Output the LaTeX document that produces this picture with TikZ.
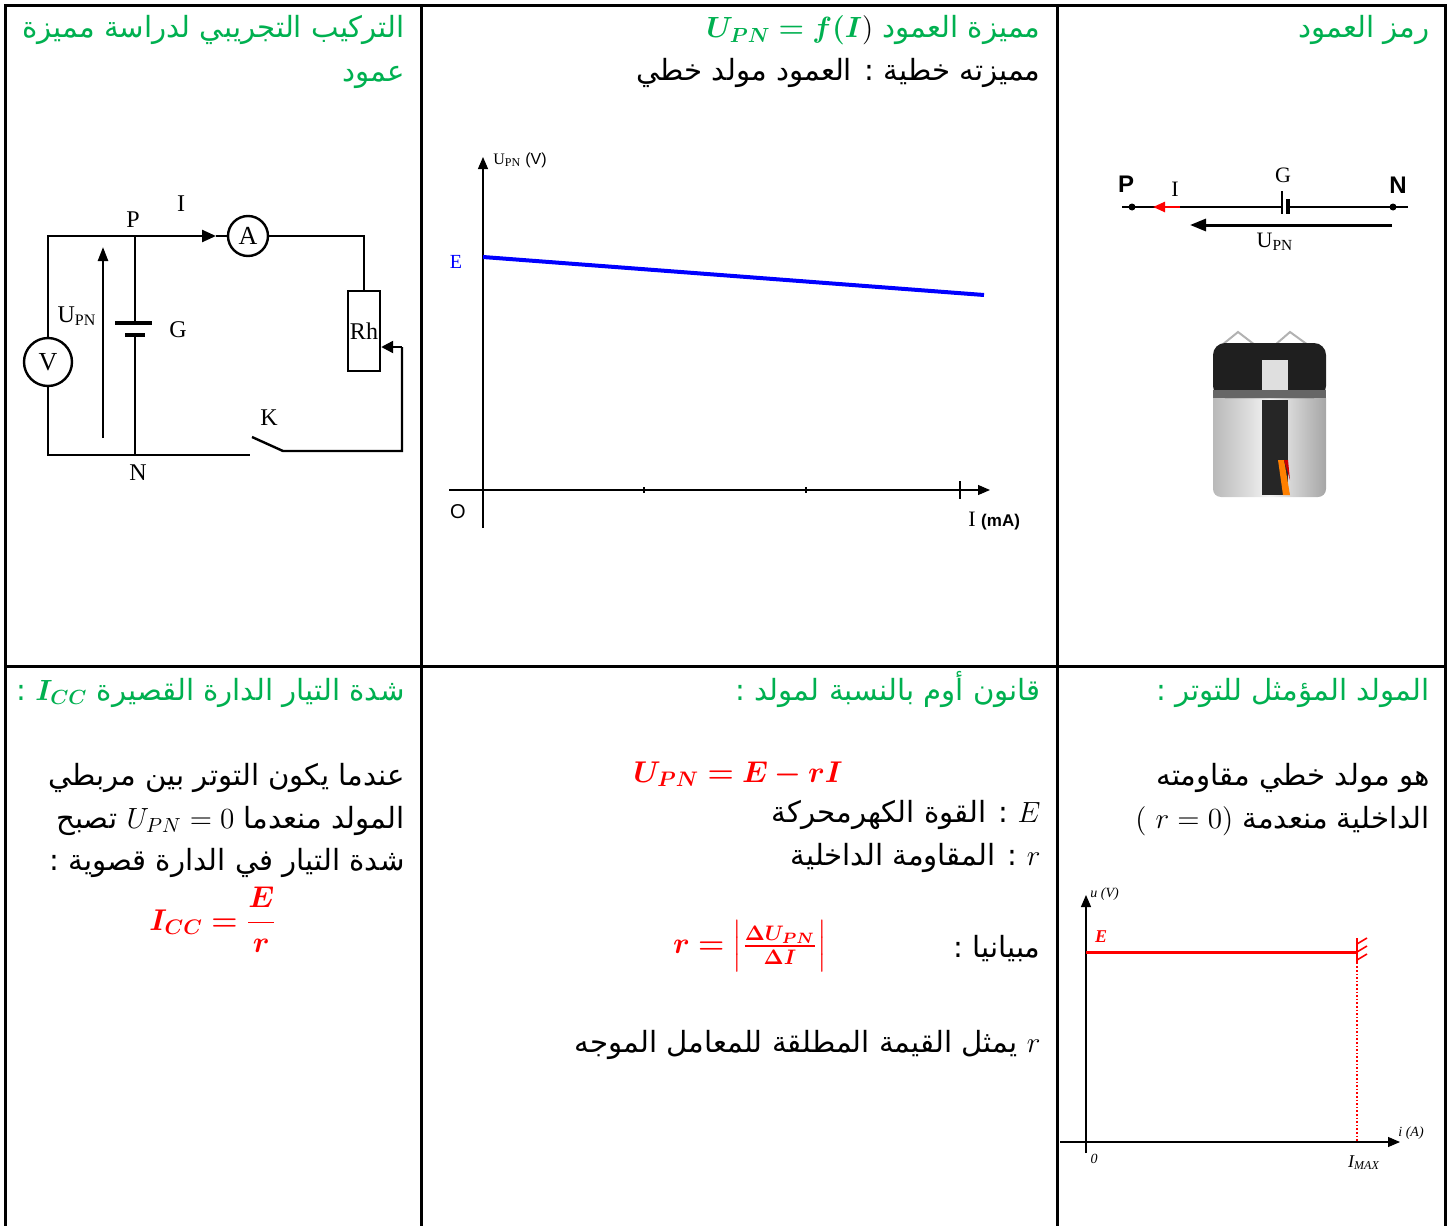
\RequirePackage{fix-cm}
\documentclass[tikz,border=0pt]{standalone}
\usepackage{amsmath}
\usepackage{fontspec}
\usepackage{bm}
\newfontfamily\arabicfont[Script=Arabic]{DejaVu Sans}
\newfontfamily\timesf{Liberation Serif}
\newfontfamily\arialf{Liberation Sans}
\TeXXeTstate=1
\usetikzlibrary{arrows.meta,positioning}
\definecolor{ttlgreen}{RGB}{0,176,80}
\definecolor{plotblue}{RGB}{0,0,255}
\tikzset{
  cellframe/.style={line width=1.5pt},
  ttl/.style={anchor=base east, inner sep=0pt, text=ttlgreen, font=\arabicfont\fontsize{14.6}{18}\selectfont},
  txt/.style={anchor=base east, inner sep=0pt, font=\arabicfont\fontsize{14.6}{18}\selectfont},
  eqn/.style={inner sep=0pt, text=red, font=\fontsize{15}{18}\selectfont},
  wire/.style={line width=1.2pt},
  meter/.style={circle, draw, line width=1.2pt, inner sep=0pt, font=\timesf\fontsize{13}{13}\selectfont},
  lbl/.style={inner sep=0pt, font=\timesf\fontsize{12}{12}\selectfont},
  axisline/.style={line width=0.6pt, -{Triangle[length=6pt,width=5pt]}},
}
\begin{document}
\begin{tikzpicture}[x=0.5pt,y=-0.5pt]
  \useasboundingbox (0,0) rectangle (1447,1226);
  % table
  \draw[cellframe] (5,1240) -- (5,5) -- (1445,5) -- (1445,1240);
  \draw[cellframe] (421,5) -- (421,1240);
  \draw[cellframe] (1057,5) -- (1057,1240);
  \draw[cellframe] (5,666) -- (1445,666);

  % cell 1 : the circuit
  \node[ttl] (ttlSetup) at (405,38) {\beginR التركيب التجريبي لدراسة مميزة\endR};
  \node[ttl] (ttlSetupB) at (405,81) {\beginR عمود\endR};
  \coordinate (cTL) at (48,236); \coordinate (cP) at (135,236); \coordinate (cBL) at (48,455);
  \coordinate (cN) at (135,455); \coordinate (cTR) at (364,236); \coordinate (cSl) at (402,347);
  \coordinate (cBR) at (402,451); \coordinate (cK) at (283,451); \coordinate (cKa) at (250,455);
  \coordinate (cKb) at (252,437); \coordinate (cI) at (216,236);
  \node[meter, minimum size=24pt] (vm) at (48,362) {V};
  \node[meter, minimum size=20pt] (am) at (248,236) {A};
  \node[draw, wire, minimum width=16pt, minimum height=40pt, inner sep=0pt,
    font=\timesf\fontsize{12}{12}\selectfont] (rh) at (364,331) {Rh};
  \draw[wire] (vm.north) -- (cTL) -- (cP);
  \draw[wire, -{Triangle[length=7pt,width=6pt]}] (cP) -- (cI);
  \draw[wire] (cI) -- (am.west);
  \draw[wire] (am.east) -- (cTR) -- (rh.north);
  \draw[wire, -{Triangle[length=6pt,width=6pt]}] (cSl) -- (rh.east |- cSl);
  \draw[wire] (cSl) -- (cBR) -- (cK) -- (cKb);
  \draw[wire] (vm.south) -- (cBL) -- (cKa);
  \draw[wire] (cP) -- (135,323); \draw[wire] (135,335) -- (cN);
  \draw[line width=1.8pt] (115,323) -- (152,323);
  \draw[line width=1.8pt] (125,335) -- (145,335);
  \draw[wire, -{Triangle[length=7pt,width=5pt]}] (103,438) -- (103,247);
  \node[lbl] (lP) at (133,220) {P};
  \node[lbl] (lI) at (181,204) {I};
  \node[lbl] (lG) at (178,330) {G};
  \node[lbl] (lN) at (138,473) {N};
  \node[lbl] (lK) at (269,418) {K};
  \node[lbl] (lU) at (77,316) {U\textsubscript{PN}};

  % cell 2 : the characteristic
  \node[ttl] (ttlChar) at (1041,38) {\beginR مميزة العمود \beginL$\bm{U_{PN}=f(I}{\color{black})}$\endL\endR};
  \node[txt] (lineChar) at (1041,80) {\beginR مميزته خطية : العمود مولد خطي\endR};
  \coordinate (gO) at (483,490);
  \draw[axisline] (483,528) -- (483,157);
  \draw[axisline] (449,490) -- (990,490);
  \foreach \tx in {644,806} \draw[line width=0.6pt] (\tx,487) -- (\tx,493);
  \draw[line width=0.6pt] (960,481) -- (960,499);
  \draw[line width=2pt, plotblue] (483,257) -- (984,295);
  \node[lbl, anchor=west, font=\timesf\fontsize{8}{8}\selectfont] (lUV) at (493,160) {U\textsubscript{PN} {\arialf(V)}};
  \node[lbl, text=plotblue, font=\timesf\fontsize{10}{10}\selectfont] (lE) at (456,262) {E};
  \node[lbl, font=\arialf\fontsize{10}{10}\selectfont] (lO) at (458,512) {O};
  \node[lbl, anchor=west, font=\timesf\fontsize{11}{11}\selectfont] (lImA) at (968,521) {I {\arialf\bfseries\fontsize{8.5}{9}\selectfont(mA)}};

  % cell 3 : the symbol
  \node[ttl] (ttlSym) at (1430,38) {\beginR رمز العمود\endR};
  \coordinate (sP) at (1132,207); \coordinate (sN) at (1393,207);
  \coordinate (sA) at (1122,207); \coordinate (sB) at (1408,207);
  \draw[line width=0.8pt] (sA) -- (1282,207);
  \draw[line width=0.8pt] (1288,207) -- (sB);
  \draw[line width=1.1pt] (1282,191) -- (1282,214);
  \draw[line width=1.6pt] (1288,199) -- (1288,214);
  \fill (sP) circle (3.5); \fill (sN) circle (3.5);
  \draw[red, line width=1.2pt, -{Triangle[length=6pt,width=5pt]}] (1180,207) -- (1153,207);
  \draw[line width=1.5pt, -{Triangle[length=8pt,width=6pt]}] (1392,225) -- (1190,225);
  \node[lbl, font=\arialf\bfseries\fontsize{12}{12}\selectfont] (sPl) at (1126,184) {P};
  \node[lbl, font=\arialf\bfseries\fontsize{12}{12}\selectfont] (sNl) at (1398,185) {N};
  \node[lbl, font=\timesf\fontsize{11}{11}\selectfont] (sIl) at (1175,189) {I};
  \node[lbl, font=\timesf\fontsize{11}{11}\selectfont] (sGl) at (1283,175) {G};
  \node[lbl, font=\timesf\fontsize{11}{11}\selectfont] (sUl) at (1275,242) {U\textsubscript{PN}};
  % the battery
  \draw[gray!60, line width=1pt] (1222,345) -- (1238,332) -- (1255,345);
  \draw[gray!60, line width=1pt] (1275,345) -- (1290,332) -- (1308,345);
  \shade[left color=gray!55, right color=gray!70, middle color=gray!10, rounded corners=4pt]
    (1213,390) rectangle (1326,497);
  \fill[black!88, rounded corners=6pt] (1213,343) rectangle (1326,398);
  \fill[black!60] (1213,390) rectangle (1326,398);
  \fill[gray!25] (1262,360) rectangle (1288,390);
  \fill[black!85] (1262,400) rectangle (1288,495);
  \fill[orange] (1278,460) -- (1284,460) -- (1290,495) -- (1283,495) -- cycle;
  \fill[red!80!black] (1284,460) -- (1288,460) -- (1290,480) -- cycle;

  % cell 4 : short circuit current
  \node[ttl] (ttlIcc) at (405,700) {\beginR شدة التيار الدارة القصيرة \beginL$\bm{I_{CC}}$\endL{} :\endR};
  \node[txt] (lineIccA) at (405,785) {\beginR عندما يكون التوتر بين مربطي\endR};
  \node[txt] (lineIccB) at (405,828) {\beginR المولد منعدما \beginL$U_{PN}=0$\endL{} تصبح\endR};
  \node[txt] (lineIccC) at (405,870) {\beginR شدة التيار في الدارة قصوية :\endR};
  \node[eqn] (eqIcc) at (213,920) {$\bm{I_{CC}=\dfrac{E}{r}}$};

  % cell 5 : ohm's law
  \node[ttl] (ttlOhm) at (1041,700) {\beginR قانون أوم بالنسبة لمولد :\endR};
  \node[eqn, anchor=base] (eqOhm) at (738,782) {$\bm{U_{PN}=E-rI}$};
  \node[txt] (lineOhmE) at (1041,822) {\beginR\beginL$E$\endL{} : القوة الكهرمحركة\endR};
  \node[txt] (lineOhmR) at (1041,865) {\beginR\beginL$r$\endL{} : المقاومة الداخلية\endR};
  \node[txt] (lineGraph) at (1041,957) {\beginR مبيانيا :\endR};
  \node[eqn] (eqR) at (750,946) {$\bm{r=\left|\frac{\Delta U_{PN}}{\Delta I}\right|}$};
  \node[txt] (lineSlope) at (1041,1052) {\beginR\beginL$r$\endL{} يمثل القيمة المطلقة للمعامل الموجه\endR};

  % cell 6 : ideal generator
  \node[ttl] (ttlIdeal) at (1430,700) {\beginR المولد المؤمثل للتوتر :\endR};
  \node[txt] (lineIdealA) at (1430,785) {\beginR هو مولد خطي مقاومته\endR};
  \node[txt] (lineIdealB) at (1430,828) {\beginR الداخلية منعدمة \beginL$(\ r=0)$\endL\endR};
  \draw[axisline] (1086,1153) -- (1086,895);
  \draw[axisline] (1060,1142) -- (1400,1142);
  \draw[red, line width=1.5pt] (1086,952) -- (1357,952);
  \draw[red, line width=0.8pt, densely dotted] (1357,952) -- (1357,1142);
  \draw[red, line width=0.8pt] (1357,938) -- (1357,964);
  \foreach \hy in {944,952,960} \draw[red, line width=0.8pt] (1357,\hy) -- (1367,\hy-6);
  \node[lbl, anchor=west, font=\timesf\itshape\fontsize{7}{7}\selectfont] (lu) at (1090,894) {u (V)};
  \node[lbl, anchor=west, font=\timesf\itshape\fontsize{7}{7}\selectfont] (li) at (1398,1133) {i (A)};
  \node[lbl, text=red, font=\timesf\bfseries\itshape\fontsize{9}{9}\selectfont] (lEr) at (1101,937) {E};
  \node[lbl, font=\timesf\itshape\fontsize{7}{7}\selectfont] (l0) at (1094,1159) {0};
  \node[lbl, font=\timesf\itshape\fontsize{9}{9}\selectfont] (lImax) at (1364,1163) {I\textsubscript{MAX}};
\end{tikzpicture}
\end{document}
